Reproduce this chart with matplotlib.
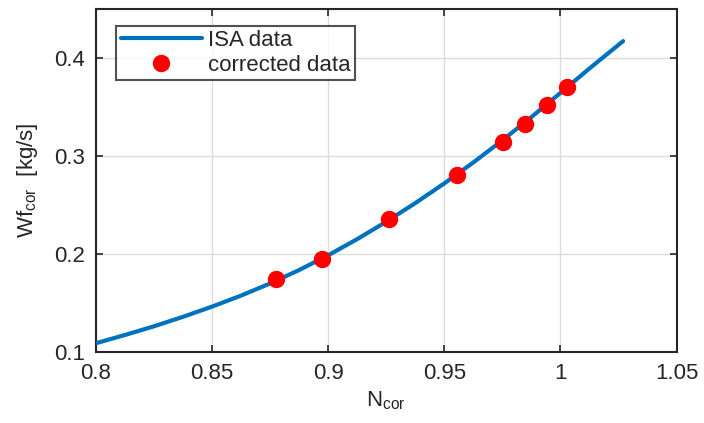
import numpy as np
import matplotlib
matplotlib.use("Agg")
import matplotlib.pyplot as plt

plt.rcParams['font.family'] = ['Liberation Sans', 'DejaVu Sans']

# ISA reference curve
isa_n = [0.80, 0.8125, 0.825, 0.8375, 0.85, 0.8625, 0.875, 0.8875, 0.90,
         0.9125, 0.925, 0.9375, 0.95, 0.9625, 0.975, 0.9875, 1.00, 1.0125, 1.027]
isa_wf = [0.1086, 0.1170, 0.1259, 0.1356, 0.1460, 0.1573, 0.1697, 0.1834, 0.1985,
          0.2150, 0.2328, 0.2518, 0.2720, 0.2934, 0.3160, 0.3398, 0.3645, 0.3895, 0.4175]

# corrected test points
cor_n = [0.8777, 0.8973, 0.9264, 0.9555, 0.9754, 0.9848, 0.9942, 1.0029]
cor_wf = [0.1744, 0.1952, 0.2359, 0.2805, 0.3142, 0.3332, 0.3518, 0.3705]

xticks = [0.8, 0.85, 0.9, 0.95, 1.0, 1.05]
xtick_labels = ['0.8', '0.85', '0.9', '0.95', '1', '1.05']
yticks = [0.1, 0.2, 0.3, 0.4]

txt = '#262626'

fig = plt.figure(figsize=(7.04, 4.23), dpi=100)
ax = fig.add_axes([0.136, 0.1686, 0.825, 0.8094])

ax.plot(isa_n, isa_wf, color='#0072BD', lw=3, label='ISA data', zorder=3,
        solid_capstyle='round', solid_joinstyle='round')
ax.plot(cor_n, cor_wf, 'o', color='red', ms=11.5, label='corrected data', zorder=4)

ax.set_xlim(0.8, 1.05)
ax.set_ylim(0.1, 0.45)
ax.set_xticks(xticks)
ax.set_xticklabels(xtick_labels)
ax.set_yticks(yticks)
ax.grid(True, color='#dcdcdc', lw=1)
ax.set_axisbelow(True)

ax.tick_params(direction='in', length=5, width=1.2, top=True, right=True,
               labelsize=16, colors=txt, pad=8)
for s in ax.spines.values():
    s.set_linewidth(1.5)
    s.set_color(txt)

ax.set_xlabel('N$_\\mathregular{cor}$', fontsize=16, color=txt, labelpad=4)
ax.set_ylabel('Wf$_\\mathregular{cor}$  [kg/s]', fontsize=16, color=txt, labelpad=10)

leg = ax.legend(loc='upper left', bbox_to_anchor=(0.035, 0.952), fontsize=16,
                frameon=True, fancybox=False, handlelength=3.65, borderaxespad=0,
                borderpad=0.2, labelspacing=0.15, handletextpad=0.3)
leg.get_frame().set_edgecolor(txt)
leg.get_frame().set_linewidth(1.5)
for t in leg.get_texts():
    t.set_color(txt)

fig.savefig('out.png', dpi=100)
